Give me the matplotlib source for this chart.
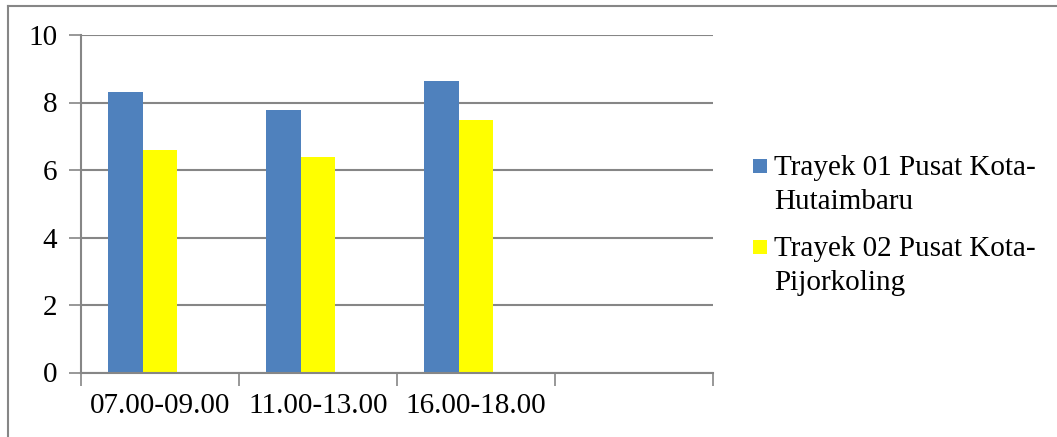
import numpy as np
import matplotlib.pyplot as plt
from matplotlib.lines import Line2D
from matplotlib.patches import Rectangle

# waktu pengamatan (slot ke-4 kosong)
categories = ['07.00-09.00', '11.00-13.00', '16.00-18.00', '']
trayek_01 = [8.31, 7.78, 8.64, np.nan]
trayek_02 = [6.60, 6.39, 7.48, np.nan]
series_names = [['Trayek 01 Pusat Kota-', 'Hutaimbaru'],
                ['Trayek 02 Pusat Kota-', 'Pijorkoling']]
series_colors = ['#4F81BD', '#FFFF00']
y_ticks = [0, 2, 4, 6, 8, 10]

plt.rcParams['font.family'] = ['Liberation Serif', 'DejaVu Serif']

fig = plt.figure(figsize=(10.57, 4.37), dpi=100)
W, H = 1057, 437
ax = fig.add_axes([81 / W, 1 - 372.5 / H, (713 - 81) / W, (372.5 - 35) / H])

grey = '#868686'
x = np.arange(len(categories))
width = 0.22
ax.bar(x - width, trayek_01, width, color=series_colors[0], zorder=3)
ax.bar(x, trayek_02, width, color=series_colors[1], zorder=3)

ax.set_xlim(-0.5, len(categories) - 0.5)
ax.set_ylim(0, 10)
ax.set_yticks(y_ticks)
ax.set_xticks(x)
ax.set_xticklabels(categories)
ax.set_xticks(np.arange(len(categories) + 1) - 0.5, minor=True)
ax.tick_params(axis='x', which='major', length=0, pad=15, labelsize=21)
ax.tick_params(axis='x', which='minor', length=9, width=1.2, color=grey)
ax.tick_params(axis='y', length=9, width=1.2, color=grey, pad=8, labelsize=21)

ax.yaxis.grid(True, color=grey, linewidth=1.5)
ax.set_axisbelow(True)
for side in ['top', 'right']:
    ax.spines[side].set_visible(False)
for side in ['left', 'bottom']:
    ax.spines[side].set_color(grey)
    ax.spines[side].set_linewidth(1.5)
ax.spines['bottom'].set_zorder(4)

# legenda: kotak warna + label dua baris
entry_top = [159, 240]
for top, color, lines in zip(entry_top, series_colors, series_names):
    fig.add_artist(Rectangle((753 / W, 1 - (top + 14) / H), 14 / W, 14 / H,
                             facecolor=color, edgecolor='none'))
    for i, line in enumerate(lines):
        fig.text(774 / W, 1 - (top + 16 + 34 * i) / H, line, fontsize=21,
                 va='baseline', ha='left')

# bingkai luar
fig.add_artist(Line2D([8 / W, 1056 / W], [1 - 6 / H, 1 - 6 / H], color=grey, linewidth=1.5))
fig.add_artist(Line2D([8 / W, 8 / W], [0, 1 - 6 / H], color=grey, linewidth=1.5))

fig.savefig('out.png', dpi=100)
